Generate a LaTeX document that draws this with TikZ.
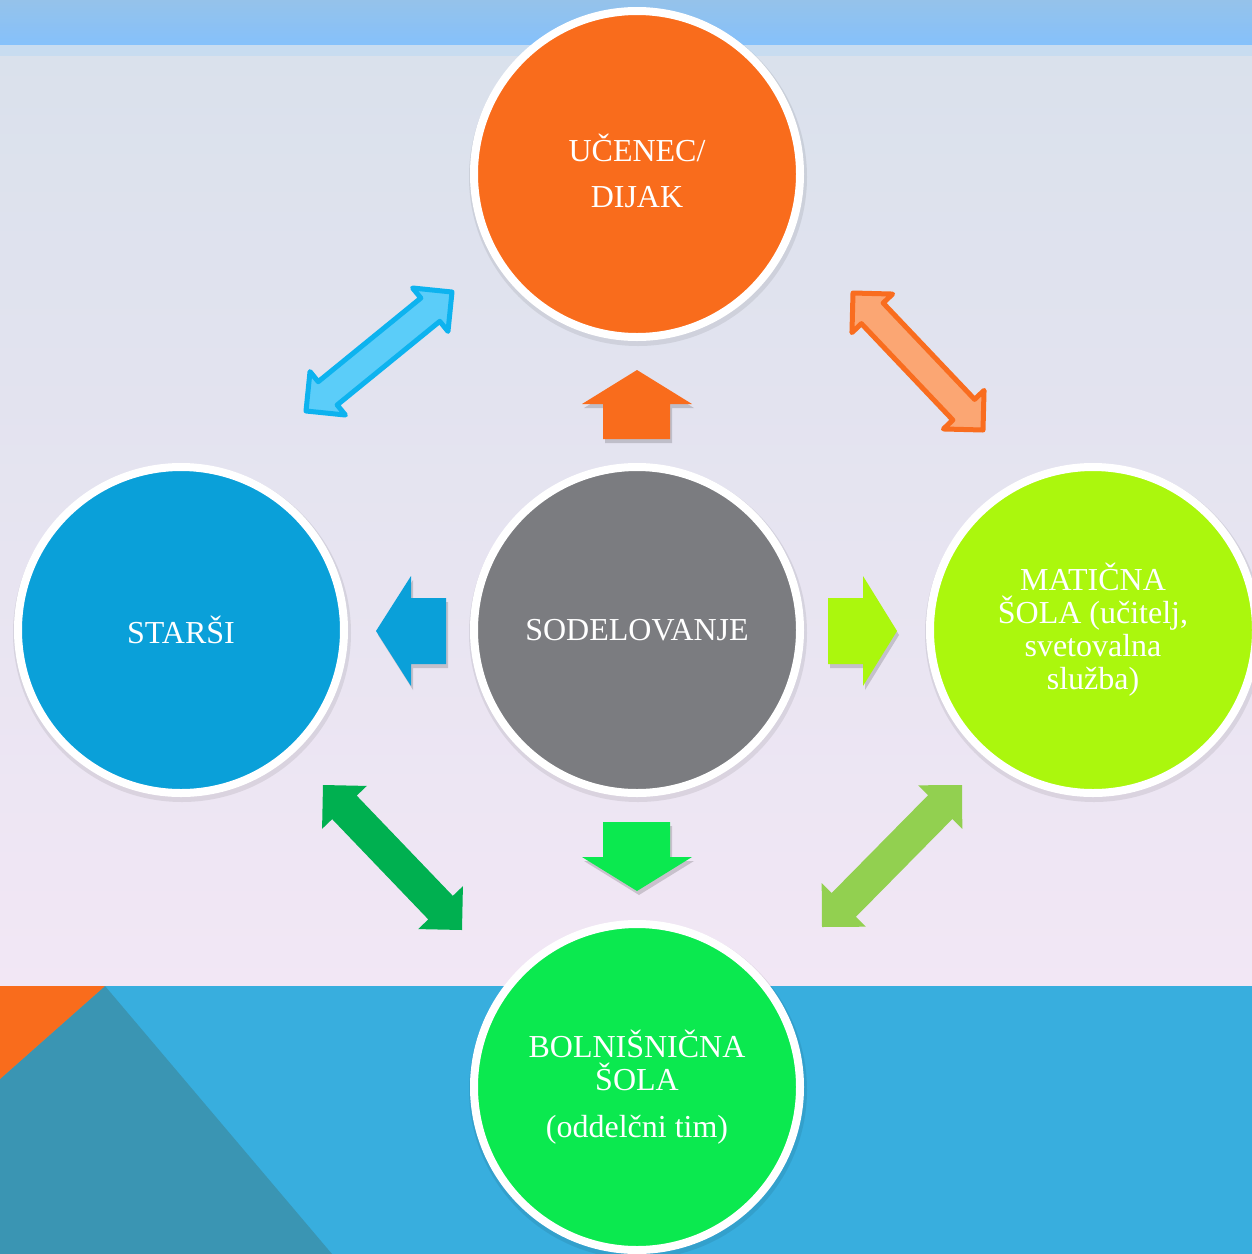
\documentclass[tikz,border=0pt]{standalone}
\usepackage{fontspec}
\setmainfont{Liberation Serif}
\usetikzlibrary{calc}
\definecolor{orangeC}{HTML}{F96C1C}
\definecolor{blueC}{HTML}{0AA0D9}
\definecolor{grayC}{HTML}{7B7C80}
\definecolor{limeC}{HTML}{ABF70D}
\definecolor{greenC}{HTML}{0BE94F}
\definecolor{bandC}{HTML}{38AEDE}
\definecolor{tealC}{HTML}{3A95B3}
\definecolor{abFill}{HTML}{5BCDF9}
\definecolor{abStroke}{HTML}{0DB3EF}
\definecolor{aoFill}{HTML}{FBA673}
\definecolor{aoStroke}{HTML}{F96D1F}
\definecolor{agFill}{HTML}{00B050}
\definecolor{alFill}{HTML}{92D050}
\definecolor{bgTop}{HTML}{DAE1EC}
\definecolor{bgMid}{HTML}{E4E4F0}
\definecolor{bgBot}{HTML}{F2E7F5}
\definecolor{barTop}{HTML}{95C2EA}
\definecolor{barBot}{HTML}{85C1FB}
\definecolor{barStrip}{HTML}{C8DCF0}

% #1 tip A, #2 tip B, #3 style, #4 head length, #5 head half width, #6 shaft half width
\newcommand{\dblarrow}[6]{%
  \path[#3] (#1)
    -- ($(#1)!#4!(#2)!#5!90:(#2)$)
    -- ($(#1)!#4!(#2)!#6!90:(#2)$)
    -- ($(#2)!#4!(#1)!#6!-90:(#1)$)
    -- ($(#2)!#4!(#1)!#5!-90:(#1)$)
    -- (#2)
    -- ($(#2)!#4!(#1)!#5!90:(#1)$)
    -- ($(#2)!#4!(#1)!#6!90:(#1)$)
    -- ($(#1)!#4!(#2)!#6!-90:(#2)$)
    -- ($(#1)!#4!(#2)!#5!-90:(#2)$)
    -- cycle;}

\tikzset{
  disc/.style={circle, draw=white, line width=8pt, minimum size=326pt,
    inner sep=0pt, text=white, align=center,
    font=\fontsize{32}{33}\selectfont,
    preaction={draw=black, line width=12pt, opacity=0.08,
      transform canvas={shift={(1pt,-3pt)}}}},
  blockshadow/.style={preaction={fill=black, opacity=0.16,
      transform canvas={shift={(2pt,-4pt)}}}},
  outlinedarrow/.style={line width=5pt, line join=round},
}

\begin{document}
\begin{tikzpicture}[x=1pt, y=-1pt]
\useasboundingbox (0,0) rectangle (1252,1254);
\clip (0,0) rectangle (1252,1254);

% background
\shade[top color=bgTop, middle color=bgMid, bottom color=bgBot] (0,56) rectangle (1252,987);
\shade[top color=barTop, bottom color=barBot] (0,0) rectangle (1252,45);
\fill[barStrip] (0,45) rectangle (1252,56);
\fill[bandC] (0,986) rectangle (1252,1254);
\fill[tealC] (0,1079) -- (105,986) -- (332,1254) -- (0,1254) -- cycle;
\fill[orangeC] (0,986) -- (105,986) -- (0,1079) -- cycle;

% circles
\node[disc, fill=orangeC, text depth=6pt] (ucenec) at (637,174) {UČENEC/\\[13pt]DIJAK};
\node[disc, fill=blueC] (starsi) at (181,630) {STARŠI};
\node[disc, fill=grayC] (sodelovanje) at (637,630) {SODELOVANJE};
\node[disc, fill=limeC] (maticna) at (1093,630) {MATIČNA\\ŠOLA (učitelj,\\svetovalna\\služba)};
\node[disc, fill=greenC] (bolnisnicna) at (637,1087) {BOLNIŠNIČNA\\ŠOLA\\[14pt](oddelčni tim)};

% block arrows from the centre
\fill[orangeC, blockshadow] (637,370) -- (692,404) -- (670,404) -- (670,439)
  -- (603,439) -- (603,404) -- (582,404) -- cycle;
\fill[greenC, blockshadow] (603,822) -- (670,822) -- (670,857) -- (692,857)
  -- (637,891) -- (582,857) -- (603,857) -- cycle;
\fill[blueC, blockshadow] (376,631) -- (411,576) -- (411,598) -- (446,598)
  -- (446,664) -- (411,664) -- (411,686) -- cycle;
\fill[limeC, blockshadow] (828,598) -- (863,598) -- (863,576) -- (897,631)
  -- (863,686) -- (863,664) -- (828,664) -- cycle;

% diagonal double arrows
\coordinate (blA) at (306,411);
\coordinate (blB) at (452,292);
\coordinate (orA) at (853,293);
\coordinate (orB) at (983,430);
\coordinate (grA) at (323,785);
\coordinate (grB) at (462,930);
\coordinate (liA) at (822,927);
\coordinate (liB) at (962,785);
\dblarrow{blA}{blB}{fill=abFill, draw=abStroke, outlinedarrow}{28pt}{28pt}{15pt}
\dblarrow{orA}{orB}{fill=aoFill, draw=aoStroke, outlinedarrow}{28pt}{28pt}{15pt}
\dblarrow{grA}{grB}{fill=agFill}{31pt}{31pt}{17pt}
\dblarrow{liA}{liB}{fill=alFill}{31pt}{31pt}{17pt}
\end{tikzpicture}
\end{document}
